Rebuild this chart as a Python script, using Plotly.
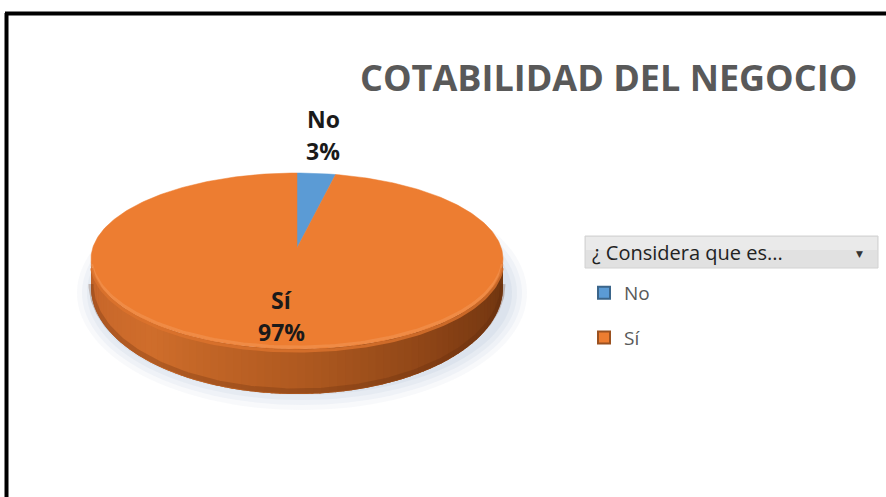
import numpy as np
import plotly.graph_objects as go

# Survey answers: "¿ Considera que es ...?"
labels = ["No", "Sí"]
values = [3, 97]
colors = ["#5B9BD5", "#ED7D31"]
title_text = "COTABILIDAD DEL NEGOCIO"
filter_text = "¿ Considera que es..."

W, H = 886, 497

# 3-D pie geometry (page pixel units; y axis runs downwards)
cx, cy = 297, 259
rx = 206
ry_back, ry_front = 86, 90        # far half slightly flatter (perspective)
depth_side, depth_front = 28, 45  # wall looks thicker at the front


def rim(theta, drop=False):
    """Point on the pie rim; theta is clockwise from 12 o'clock."""
    theta = np.asarray(theta, dtype=float)
    c = np.cos(theta)
    ry = np.where(c > 0, ry_back, ry_front)
    x = cx + rx * np.sin(theta)
    y = cy - ry * c
    if drop:
        y = y + depth_side + (depth_front - depth_side) * np.clip(-c, 0, 1)
    return x, y


def mix(c1, c2, t):
    a = [int(c1[i:i + 2], 16) for i in (1, 3, 5)]
    b = [int(c2[i:i + 2], 16) for i in (1, 3, 5)]
    return "#%02x%02x%02x" % tuple(round(a[k] + (b[k] - a[k]) * t) for k in range(3))


fig = go.Figure()

# soft drop shadow beneath the pie
for k, a in enumerate([0.10, 0.12, 0.16, 0.22]):
    t = np.linspace(0, 2 * np.pi, 120)
    grow = (3 - k) * 5
    fig.add_trace(go.Scatter(
        x=cx + 5 + (rx + 4 + grow) * np.sin(t),
        y=cy + 34 + (ry_front + 12 + grow) * np.cos(t),
        fill="toself", mode="none", fillcolor=f"rgba(185,200,218,{a})",
        hoverinfo="skip", showlegend=False))

# side wall of the pie: front half, shaded from the light left to the dark right
side_stops = [(0.0, "#6a330f"), (0.22, "#843f14"), (0.5, "#b05a20"),
              (0.75, "#cf6d2b"), (1.0, "#c4642a")]


def side_color(u):
    for (u0, c0), (u1, c1) in zip(side_stops[:-1], side_stops[1:]):
        if u <= u1:
            return mix(c0, c1, (u - u0) / (u1 - u0))
    return side_stops[-1][1]


# base wall under the shaded strips so no seams show through
tb_all = np.linspace(np.pi / 2, 3 * np.pi / 2, 200)
xt, yt = rim(tb_all)
xb, yb = rim(tb_all, drop=True)
fig.add_trace(go.Scatter(
    x=np.r_[xt, xb[::-1], xt[:1]], y=np.r_[yt, yb[::-1], yt[:1]],
    fill="toself", mode="none", fillcolor="#a0521c",
    hoverinfo="skip", showlegend=False))

n = 80
ths = np.linspace(np.pi / 2, 3 * np.pi / 2, n + 1)
for k in range(n):
    ta, tb = ths[k], min(ths[k + 1] + 0.01, 3 * np.pi / 2)
    seg = np.linspace(ta, tb, 4)
    sx, sy = rim(seg)
    dx, dy = rim(seg, drop=True)
    col = side_color((k + 0.5) / n)
    fig.add_trace(go.Scatter(
        x=np.r_[sx, dx[::-1], sx[:1]], y=np.r_[sy, dy[::-1], sy[:1]],
        fill="toself", mode="none", fillcolor=col,
        hoverinfo="skip", showlegend=False))

# darker lower edge of the wall
dx, dy = rim(tb_all, drop=True)
fig.add_trace(go.Scatter(x=dx, y=dy - 3, mode="lines",
                         line=dict(color="rgba(90,40,10,0.25)", width=5),
                         hoverinfo="skip", showlegend=False))

# top face slices, clockwise from 12 o'clock
total = float(sum(values))
start = 0.0
for lab, val, col in zip(labels, values, colors):
    span = 2 * np.pi * val / total
    t = np.linspace(start, start + span, max(4, int(val * 4)))
    px, py = rim(t)
    fig.add_trace(go.Scatter(
        x=np.r_[cx, px, cx], y=np.r_[cy - 11, py, cy - 11],
        fill="toself", mode="lines", line=dict(color=col, width=0.5),
        fillcolor=col, hoverinfo="skip", showlegend=False))
    start += span

# subtle bevel along the front rim
t = np.linspace(np.pi / 2 + 0.08, 3 * np.pi / 2 - 0.08, 120)
px, py = rim(t)
fig.add_trace(go.Scatter(x=px, y=py - 2, mode="lines",
                         line=dict(color="rgba(245,160,100,0.4)", width=3),
                         hoverinfo="skip", showlegend=False))
fig.add_trace(go.Scatter(x=px, y=py + 2, mode="lines",
                         line=dict(color="rgba(220,115,45,0.8)", width=3),
                         hoverinfo="skip", showlegend=False))

# legend entries
for lab, col in zip(labels, colors):
    fig.add_trace(go.Scatter(
        x=[None], y=[None], mode="markers", name=lab, legendgroup=lab,
        marker=dict(symbol="square", size=11, color=col,
                    line=dict(color=mix(col, "#000000", 0.35), width=1))))

# data labels (name on one line, share on the next)
label_pos = {"No": (323, 119), "Sí": (281, 300)}
for lab, val in zip(labels, values):
    lx, ly = label_pos[lab]
    for text, dy_ in ((lab, 0), (f"{round(100 * val / total)}%", 32)):
        fig.add_annotation(x=lx, y=ly + dy_, xref="x", yref="y", showarrow=False,
                           text=f"<b>{text}</b>",
                           font=dict(family="Open Sans", size=23, color="#1a1a1a"))

# title
fig.add_annotation(x=608, y=77, xref="x", yref="y", showarrow=False,
                   text=f"<b>{title_text}</b>",
                   font=dict(family="Open Sans", size=36, color="#595959"))

# filter button header of the legend
fig.add_shape(type="rect", x0=585, x1=878, y0=236, y1=268, xref="x", yref="y",
              fillcolor="#e1e1e1", line=dict(color="#d2d2d2", width=1), layer="below")
fig.add_shape(type="rect", x0=586, x1=877, y0=237, y1=250, xref="x", yref="y",
              fillcolor="#eaeaea", line=dict(width=0), layer="below")
fig.add_annotation(x=590, y=252, xref="x", yref="y", showarrow=False,
                   xanchor="left", text=filter_text,
                   font=dict(family="Open Sans", size=20, color="#222222"))
fig.add_annotation(x=859, y=254, xref="x", yref="y", showarrow=False,
                   text="▼", font=dict(family="DejaVu Sans", size=9, color="#333333"))

# chart frame (cut at the right and bottom)
fig.add_shape(type="line", x0=6.5, x1=6.5, y0=13, y1=H, xref="x", yref="y",
              line=dict(color="black", width=4))
fig.add_shape(type="line", x0=5, x1=W, y0=13.5, y1=13.5, xref="x", yref="y",
              line=dict(color="black", width=4))

fig.update_layout(
    width=W, height=H, margin=dict(l=0, r=0, t=0, b=0),
    paper_bgcolor="white", plot_bgcolor="white",
    xaxis=dict(range=[0, W], visible=False, fixedrange=True),
    yaxis=dict(range=[H, 0], visible=False, fixedrange=True),
    showlegend=True,
    legend=dict(x=584 / W, y=1 - 274 / H, xanchor="left", yanchor="top",
                traceorder="grouped", tracegroupgap=17, itemsizing="constant",
                font=dict(family="Open Sans", size=19, color="#595959"),
                bgcolor="rgba(0,0,0,0)", itemwidth=30),
)

fig.write_html("out.html")
